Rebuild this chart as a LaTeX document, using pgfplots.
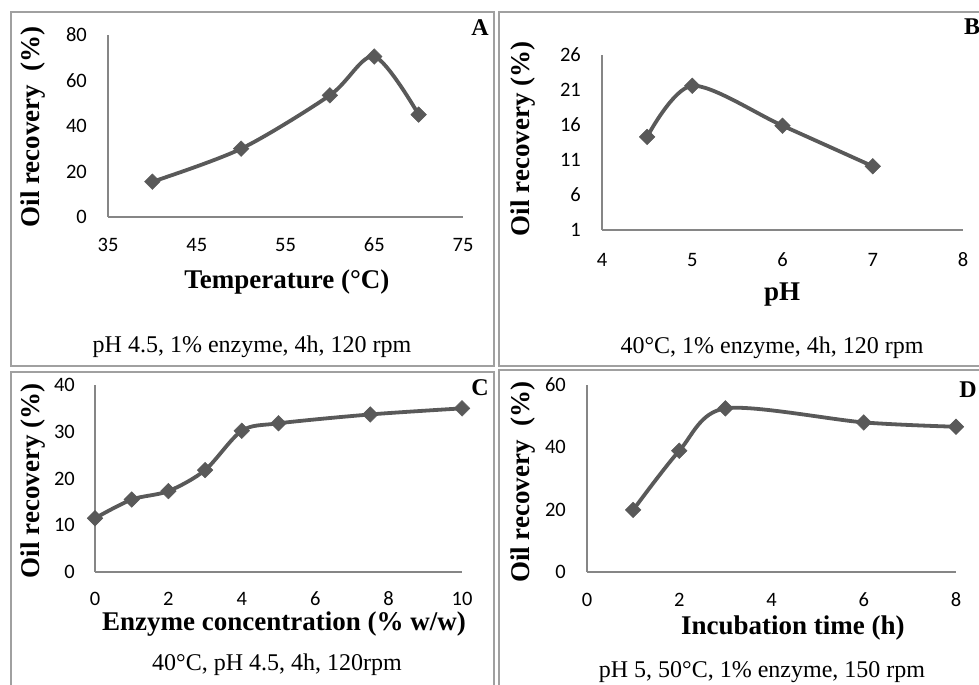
\documentclass[border=0pt]{standalone}
\usepackage{pgfplots}
\pgfplotsset{compat=1.18}
\usepackage{fontspec}
\setmainfont{Liberation Serif}
\newfontfamily\calibri{Carlito}
\definecolor{linegray}{HTML}{595959}
\definecolor{axisgray}{HTML}{868686}
\definecolor{framegray}{HTML}{A0A0A0}
\pgfplotsset{
  common/.style={
    scale only axis, anchor=south west,
    axis x line=bottom, axis y line=left,
    axis line style={-, draw=axisgray, line width=1.3bp},
    major tick length=0pt, tick style={draw=none},
    clip=false,
    /pgf/number format/assume math mode=true,
    ticklabel style={font=\calibri\fontsize{20.5bp}{23bp}\selectfont, text=black},
    xticklabel style={anchor=center, inner sep=0pt, yshift=-28bp},
    yticklabel style={anchor=east, inner sep=0pt, xshift=-21bp},
    xlabel style={anchor=center, inner sep=0pt, font=\bfseries\fontsize{27bp}{30bp}\selectfont},
    ylabel style={anchor=center, inner sep=0pt, font=\bfseries\fontsize{27bp}{30bp}\selectfont},
  },
  ser/.style={color=linegray, line width=3.8bp, smooth, tension=0.5,
    mark=square*, mark size=5.5bp, mark options={rotate=45, solid, fill=linegray, line width=0.5bp}},
}
\begin{document}
\begin{tikzpicture}[x=1bp,y=1bp]
\useasboundingbox (0,0) rectangle (979,685);
% panel frames
\draw[framegray, line width=1.3bp] (11,673) rectangle (494,319);
\draw[framegray, line width=1.3bp] (499,673) rectangle (990,319);
\draw[framegray, line width=1.3bp] (11,313) rectangle (494,-10);
\draw[framegray, line width=1.3bp] (499,315) rectangle (990,-10);

% Panel A
\begin{axis}[common, at={(108bp,468bp)}, width=355bp, height=182bp,
  xmin=35, xmax=75, ymin=0, ymax=80,
  xtick={35,45,...,75}, ytick={0,20,...,80},
  xlabel={Temperature (°C)}, ylabel={Oil recovery\ \ (\%)},
  xlabel style={at={(axis description cs:0.504,-0.357)}},
  ylabel style={at={(axis description cs:-0.211,0.495)}}]
\addplot[ser] coordinates {(40,15.5) (50,30) (60,53.5) (65,70.5) (70,45)};
\end{axis}
\node[font=\fontsize{24bp}{27bp}\selectfont] at (252,338) {pH 4.5, 1\% enzyme, 4h, 120 rpm};
\node[font=\bfseries\fontsize{24bp}{27bp}\selectfont] at (480,657) {A};

% Panel B
\begin{axis}[common, at={(602bp,455bp)}, width=361bp, height=175bp,
  xmin=4, xmax=8, ymin=1, ymax=26,
  xtick={4,5,...,8}, ytick={1,6,...,26},
  xticklabel style={yshift=-2bp},
  xlabel={pH}, ylabel={Oil recovery (\%)},
  xlabel style={at={(axis description cs:0.499,-0.371)}},
  ylabel style={at={(axis description cs:-0.219,0.52)}}]
\addplot[ser] coordinates {(4.5,14.3) (5,21.6) (6,15.9) (7,10.1)};
\end{axis}
\node[font=\fontsize{24bp}{27bp}\selectfont] at (772,337) {40°C, 1\% enzyme, 4h, 120 rpm};
\node[font=\bfseries\fontsize{24bp}{27bp}\selectfont] at (972,658) {B};

% Panel C
\begin{axis}[common, at={(95bp,113bp)}, width=367bp, height=187bp,
  xmin=0, xmax=10, ymin=0, ymax=40,
  xtick={0,2,...,10}, ytick={0,10,...,40},
  xticklabel style={yshift=1bp},
  yticklabel style={xshift=1bp},
  xlabel={Enzyme concentration (\% w/w)}, ylabel={Oil recovery (\%)},
  xlabel style={at={(axis description cs:0.515,-0.28)}},
  ylabel style={at={(axis description cs:-0.169,0.487)}}]
\addplot[ser] coordinates {(0,11.5) (1,15.5) (2,17.3) (3,21.8) (4,30.2) (5,31.8) (7.5,33.7) (10,35)};
\end{axis}
\node[font=\fontsize{24bp}{27bp}\selectfont] at (277,20) {40°C, pH 4.5, 4h, 120rpm};
\node[font=\bfseries\fontsize{24bp}{27bp}\selectfont] at (480,297) {C};

% Panel D
\begin{axis}[common, at={(587bp,113bp)}, width=369bp, height=187bp,
  xmin=0, xmax=8, ymin=0, ymax=60,
  xtick={0,2,...,8}, ytick={0,20,...,60},
  xlabel={Incubation time (h)}, ylabel={Oil recovery\ \ (\%)},
  xlabel style={at={(axis description cs:0.558,-0.30)}},
  ylabel style={at={(axis description cs:-0.173,0.48)}}]
\addplot[ser] coordinates {(1,19.9) (2,38.9) (3,52.5) (6,48) (8,46.6)};
\end{axis}
\node[font=\fontsize{24bp}{27bp}\selectfont] at (762,13) {pH 5, 50°C, 1\% enzyme, 150 rpm};
\node[font=\bfseries\fontsize{24bp}{27bp}\selectfont] at (968,295) {D};
\end{tikzpicture}
\end{document}
